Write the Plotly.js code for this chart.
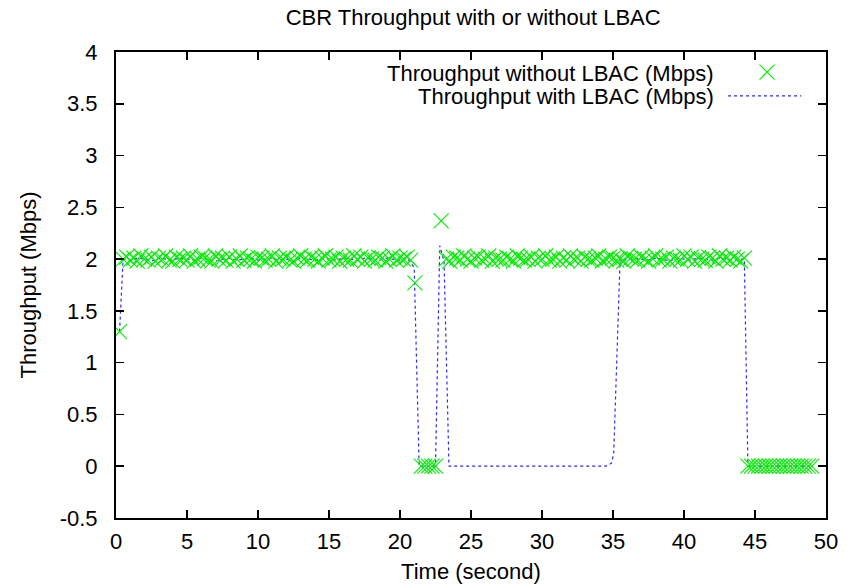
<!DOCTYPE html>
<html>
<head>
<meta charset="utf-8">
<script src="https://cdn.plot.ly/plotly-3.0.1.min.js"></script>
<style>html,body{margin:0;padding:0;background:#fff;}#chart{width:847px;height:584px;}</style>
</head>
<body>
<div id="chart"></div>
<script>
// Throughput without LBAC (Mbps) — sampled points
const timeWithout = [
0.25,
0.5,0.75,1,1.25,1.5,1.75,2,2.25,2.5,2.75,3,3.25,3.5,3.75,4,4.25,4.5,4.75,5,5.25,
5.5,5.75,6,6.25,6.5,6.75,7,7.25,7.5,7.75,8,8.25,8.5,8.75,9,9.25,9.5,9.75,10,10.25,
10.5,10.75,11,11.25,11.5,11.75,12,12.25,12.5,12.75,13,13.25,13.5,13.75,14,14.25,14.5,14.75,15,15.25,
15.5,15.75,16,16.25,16.5,16.75,17,17.25,17.5,17.75,18,18.25,18.5,18.75,19,19.25,19.5,19.75,20,20.25,
20.5,20.75,
21.05,
21.5,21.75,22,22.25,22.5,
22.9,
23.25,23.5,23.75,24,24.25,24.5,24.75,25,25.25,25.5,25.75,26,26.25,26.5,26.75,27,27.25,27.5,27.75,28,
28.25,28.5,28.75,29,29.25,29.5,29.75,30,30.25,30.5,30.75,31,31.25,31.5,31.75,32,32.25,32.5,32.75,33,
33.25,33.5,33.75,34,34.25,34.5,34.75,35,35.25,35.5,35.75,36,36.25,36.5,36.75,37,37.25,37.5,37.75,38,
38.25,38.5,38.75,39,39.25,39.5,39.75,40,40.25,40.5,40.75,41,41.25,41.5,41.75,42,42.25,42.5,42.75,43,
43.25,43.5,43.75,44,44.25,
44.5,44.75,45,45.25,45.5,45.75,46,46.25,46.5,46.75,47,47.25,47.5,47.75,48,48.25,48.5,48.75,49
];
const thrWithout = [
1.30,
2.00,2.02,1.99,2.01,1.98,2.03,2.00,1.99,2.02,1.98,2.01,2.00,2.03,1.99,1.98,2.02,2.00,2.01,1.99,2.03,
1.98,2.00,2.02,2.01,1.99,1.98,2.03,2.00,2.01,1.99,2.02,1.98,2.00,2.03,1.99,2.01,2.00,1.98,2.02,2.01,
1.99,2.00,2.03,1.98,2.01,2.00,2.02,1.99,1.98,2.01,2.03,2.00,1.99,2.02,2.00,1.98,2.01,2.03,1.99,2.00,
2.02,1.98,2.01,2.00,1.99,2.03,2.00,2.02,1.98,2.01,2.00,1.99,2.02,2.01,1.98,2.00,2.03,1.99,2.01,2.00,
2.02,1.99,
1.77,
0,0,0,0,0,
2.37,
2.00,1.98,2.02,2.01,1.99,2.03,2.00,1.98,2.01,2.02,1.99,2.00,2.03,1.98,2.01,2.00,1.99,2.02,2.00,1.98,
2.03,2.01,1.99,2.00,2.02,1.98,2.01,2.00,2.03,1.99,2.00,2.02,1.98,2.01,1.99,2.03,2.00,2.01,1.98,2.02,
2.00,1.99,2.01,2.03,1.98,2.00,2.02,2.01,1.99,2.00,1.98,2.03,2.01,2.00,1.99,2.02,2.00,1.98,2.01,2.03,
1.99,2.00,2.02,1.98,2.01,2.00,1.99,2.03,2.00,2.02,1.98,2.01,2.00,1.99,2.02,2.01,1.98,2.03,2.00,2.01,
1.99,2.02,2.00,1.98,2.01,
0,0,0,0,0,0,0,0,0,0,0,0,0,0,0,0,0,0,0
];

// Throughput with LBAC (Mbps) — line
const timeWith = [
0.25,0.5,1,1.5,2,2.5,3,3.5,4,4.5,5,5.5,6,6.5,7,7.5,8,8.5,9,9.5,10,10.5,11,11.5,12,12.5,13,13.5,14,14.5,
15,15.5,16,16.5,17,17.5,18,18.5,19,19.5,20,20.5,21,
21.35,21.5,22,22.5,22.8,23.1,23.45,
24,24.5,25,25.5,26,26.5,27,27.5,28,28.5,29,29.5,30,30.5,31,31.5,32,32.5,33,33.5,34,34.5,34.9,35.05,
35.5,36,36.5,37,37.5,38,38.5,39,39.5,40,40.5,41,41.5,42,42.5,43,43.5,44,44.25,
44.5,45,45.5,46,46.5,47,47.5,48,48.5,49
];
const thrWith = [
1.30,2.00,1.99,2.01,2.00,1.98,2.01,2.00,1.99,2.01,2.00,1.99,2.01,2.00,1.98,2.00,2.01,1.99,2.00,2.01,
1.99,2.00,2.01,1.99,2.00,1.98,2.01,2.00,1.99,2.01,2.00,1.99,2.01,2.00,1.99,2.01,2.00,1.99,2.01,2.00,
1.99,2.01,1.92,
0,0,0,0,2.13,1.98,0,
0,0,0,0,0,0,0,0,0,0,0,0,0,0,0,0,0,0,0,0,0,0,0.03,0.12,
2.00,1.99,2.01,2.00,1.99,2.01,2.00,1.98,2.01,2.00,1.99,2.01,2.00,1.99,2.01,2.00,1.99,2.00,2.00,
0,0,0,0,0,0,0,0,0,0
];

const xTicks = [0,5,10,15,20,25,30,35,40,45,50];
const yTicks = [-0.5,0,0.5,1,1.5,2,2.5,3,3.5,4];
const labelWithout = 'Throughput without LBAC (Mbps)';
const labelWith = 'Throughput with LBAC (Mbps)';

const FONT = 'Liberation Sans, Arial, sans-serif';
const FS = 22;
const GREEN = '#00ee00';
const BLUE = '#2a2aff';
const MSIZE = 15;

const traces = [
  {
    x: timeWith, y: thrWith, type: 'scatter', mode: 'lines',
    line: {color: BLUE, width: 1.2, dash: '3px,3px'},
    hoverinfo: 'skip', showlegend: false
  },
  {
    x: timeWithout, y: thrWithout, type: 'scatter', mode: 'markers',
    marker: {symbol: 'x-thin-open', size: MSIZE, color: GREEN, line: {color: GREEN, width: 1.1}},
    hoverinfo: 'skip', showlegend: false
  },
  // legend keys on an overlay axis (0..1 in plot area)
  {
    x: [0.917], y: [0.957], xaxis: 'x2', yaxis: 'y2', type: 'scatter', mode: 'markers',
    marker: {symbol: 'x-thin-open', size: MSIZE, color: GREEN, line: {color: GREEN, width: 1.1}},
    hoverinfo: 'skip', showlegend: false
  },
  {
    x: [0.862, 0.965], y: [0.906, 0.906], xaxis: 'x2', yaxis: 'y2', type: 'scatter', mode: 'lines',
    line: {color: BLUE, width: 1.2, dash: '3px,3px'},
    hoverinfo: 'skip', showlegend: false
  }
];

const axisCommon = {
  showgrid: false, zeroline: false,
  showline: true, linecolor: '#000', linewidth: 2,
  mirror: 'allticks', ticks: 'inside', ticklen: 8, tickwidth: 1.5, tickcolor: '#000',
  tickfont: {family: FONT, size: FS, color: '#000'}
};

const layout = {
  width: 847, height: 584,
  margin: {l: 116, r: 21, t: 52, b: 66},
  paper_bgcolor: '#fff', plot_bgcolor: '#fff',
  showlegend: false,
  title: {text: 'CBR Throughput with or without LBAC', font: {family: FONT, size: FS, color: '#000'},
          x: 0.503, xanchor: 'center', y: 0.971, yanchor: 'middle', xref: 'paper'},
  xaxis: Object.assign({}, axisCommon, {
    range: [0, 50], tickvals: xTicks, ticktext: xTicks.map(String),
    ticklabelstandoff: 3,
    title: {text: 'Time (second)', font: {family: FONT, size: FS, color: '#000'}, standoff: 11}
  }),
  yaxis: Object.assign({}, axisCommon, {
    range: [-0.5, 4], tickvals: yTicks, ticktext: yTicks.map(String),
    ticklabelstandoff: 12,
    title: {text: 'Throughput (Mbps)', font: {family: FONT, size: FS, color: '#000'}, standoff: 17}
  }),
  xaxis2: {overlaying: 'x', range: [0, 1], visible: false, fixedrange: true},
  yaxis2: {overlaying: 'y', range: [0, 1], visible: false, fixedrange: true},
  annotations: [
    {xref: 'paper', yref: 'paper', x: 0.845, y: 0.953, xanchor: 'right', yanchor: 'middle',
     text: labelWithout, showarrow: false, font: {family: FONT, size: FS, color: '#000'}},
    {xref: 'paper', yref: 'paper', x: 0.845, y: 0.905, xanchor: 'right', yanchor: 'middle',
     text: labelWith, showarrow: false, font: {family: FONT, size: FS, color: '#000'}}
  ]
};

Plotly.newPlot('chart', traces, layout, {staticPlot: true, displayModeBar: false});
</script>
</body>
</html>
